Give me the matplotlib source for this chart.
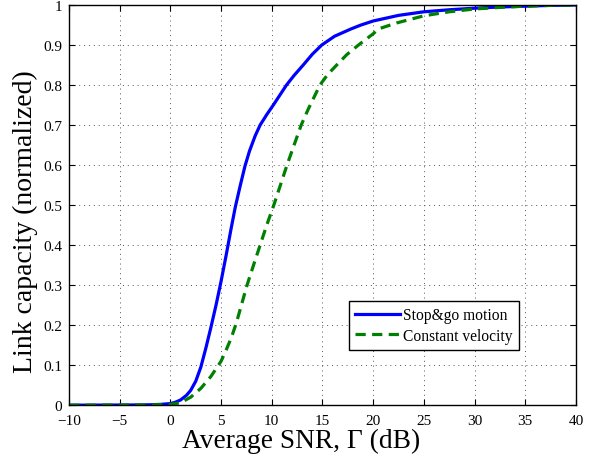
import matplotlib.pyplot as plt
from matplotlib.ticker import FixedLocator, FixedFormatter

# values
snr_stopgo = [-10, -4, -2, -1, 0, 0.45, 1.0, 1.6, 2.0, 2.5, 3.0, 3.5, 4.0, 4.5, 5.0, 5.5,
              6.0, 6.4, 6.9, 7.36, 7.8, 8.36, 8.85, 9.5, 10.15, 10.8, 11.45, 12.2, 13.1, 14.0,
              14.93, 16.2, 17.8, 18.8, 20, 22.5, 25, 27.5, 30, 32.5, 35, 37.5, 40]
cap_stopgo = [0, 0.0005, 0.001, 0.002, 0.004, 0.007, 0.013, 0.025, 0.037, 0.06, 0.095, 0.143, 0.195, 0.25, 0.31, 0.375,
              0.443, 0.495, 0.55, 0.598, 0.635, 0.673, 0.7, 0.726, 0.75, 0.775, 0.8, 0.824, 0.85, 0.877,
              0.9, 0.922, 0.94, 0.95, 0.96, 0.974, 0.983, 0.988, 0.992, 0.995, 0.997, 0.999, 1.0]

snr_const = [-10, -2, 0, 1.0, 2.0, 3.0, 4.0, 5.0, 5.5, 6.0, 6.5, 7.0, 7.56, 8.2, 8.85, 9.5,
             10.2, 10.85, 11.5, 12.2, 12.9, 13.6, 14.75, 15.5, 16.4, 17.4, 18.55, 20, 20.5,
             22.3, 25, 27.5, 30, 32.5, 35, 37.5, 40]
cap_const = [0, 0.0005, 0.002, 0.006, 0.02, 0.042, 0.072, 0.11, 0.138, 0.168, 0.205, 0.25, 0.3, 0.35, 0.4, 0.45,
             0.5, 0.55, 0.6, 0.65, 0.7, 0.74, 0.8, 0.826, 0.85, 0.876, 0.9, 0.928, 0.94,
             0.955, 0.973, 0.983, 0.99, 0.994, 0.997, 0.999, 1.0]

xticks = [-10, -5, 0, 5, 10, 15, 20, 25, 30, 35, 40]
yticks = [0, 0.1, 0.2, 0.3, 0.4, 0.5, 0.6, 0.7, 0.8, 0.9, 1]
ytick_labels = ["0", "0.1", "0.2", "0.3", "0.4", "0.5", "0.6", "0.7", "0.8", "0.9", "1"]

plt.rcParams['font.family'] = ['Liberation Serif', 'DejaVu Serif']
plt.rcParams['axes.unicode_minus'] = True

fig = plt.figure(figsize=(5.95, 4.6), dpi=100)
ax = fig.add_axes([0.116, 0.117, 0.852, 0.870])

ax.plot(snr_stopgo, cap_stopgo, color='#0000ff', lw=2.3, label='Stop&go motion')
ax.plot(snr_const, cap_const, color='#008000', lw=2.3, ls=(0, (3.2, 2.0)), label='Constant velocity')

ax.set_xlim(-10, 40)
ax.set_ylim(0, 1)
ax.xaxis.set_major_locator(FixedLocator(xticks))
ax.yaxis.set_major_locator(FixedLocator(yticks))
ax.yaxis.set_major_formatter(FixedFormatter(ytick_labels))
ax.tick_params(direction='in', length=4, width=0.8, top=True, right=True, labelsize=11)
ax.tick_params(axis='x', pad=6)
ax.tick_params(axis='y', pad=5)

ax.grid(True, color='#555555', ls=(0, (1, 4)), lw=0.7)
for s in ax.spines.values():
    s.set_linewidth(1.0)

# labels sit a bit off-centre in the original
ax.set_xlabel('Average SNR, Γ (dB)', fontsize=19.7)
ax.set_ylabel('Link capacity (normalized)', fontsize=20)
ax.xaxis.set_label_coords(0.4586, -0.056)
ax.yaxis.set_label_coords(-0.062, 0.461)

leg = ax.legend(loc='lower left', bbox_to_anchor=(0.552, 0.1375), fontsize=11.2, fancybox=False,
                framealpha=1, edgecolor='black', handlelength=2.9, handletextpad=0.2,
                borderpad=0.4, labelspacing=0.3, borderaxespad=0)
leg.get_frame().set_linewidth(1.0)

fig.savefig('out.png', dpi=100)
